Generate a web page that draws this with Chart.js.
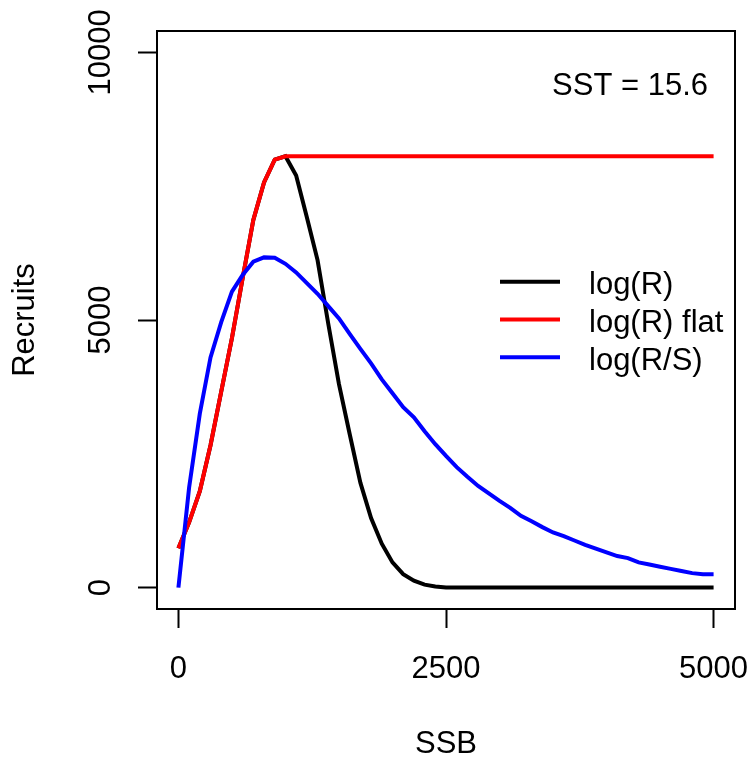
<!DOCTYPE html>
<html>
<head>
<meta charset="utf-8">
<script src="https://cdn.jsdelivr.net/npm/chart.js@4"></script>
<style>
  body { margin: 0; background: #fff; }
  canvas { display: block; }
</style>
</head>
<body>
<canvas id="myChart" width="754" height="765"></canvas>
<script>
// SSB grid and the three recruit curves
const ssb = [0, 100, 200, 300, 400, 500, 600, 700, 800, 900,
  1000, 1100, 1200, 1300, 1400, 1500, 1600, 1700, 1800, 1900,
  2000, 2100, 2200, 2300, 2400, 2500, 2600, 2700, 2800, 2900,
  3000, 3100, 3200, 3300, 3400, 3500, 3600, 3700, 3800, 3900,
  4000, 4100, 4200, 4300, 4400, 4500, 4600, 4700, 4800, 4900, 5000];

const logR = [735, 1220, 1800, 2660, 3660, 4660, 5780, 6870, 7570, 7995,
  8060, 7700, 6920, 6120, 4930, 3800, 2870, 1960, 1300, 820,
  470, 250, 130, 56, 20, 0, 0, 0, 0, 0,
  0, 0, 0, 0, 0, 0, 0, 0, 0, 0,
  0, 0, 0, 0, 0, 0, 0, 0, 0, 0, 0];

const logRflat = [735, 1220, 1800, 2660, 3660, 4660, 5780, 6870, 7570, 7995,
  8060, 8060, 8060, 8060, 8060, 8060, 8060, 8060, 8060, 8060,
  8060, 8060, 8060, 8060, 8060, 8060, 8060, 8060, 8060, 8060,
  8060, 8060, 8060, 8060, 8060, 8060, 8060, 8060, 8060, 8060,
  8060, 8060, 8060, 8060, 8060, 8060, 8060, 8060, 8060, 8060, 8060];

const logRS = [0, 1870, 3250, 4300, 4960, 5530, 5840, 6090, 6170, 6165,
  6050, 5890, 5690, 5490, 5260, 5030, 4740, 4460, 4190, 3890,
  3630, 3370, 3180, 2920, 2680, 2460, 2250, 2070, 1900, 1760,
  1620, 1490, 1340, 1240, 1130, 1030, 960, 880, 800, 730,
  660, 590, 550, 470, 430, 390, 350, 310, 270, 250, 250];

const seriesNames = ["log(R)", "log(R) flat", "log(R/S)"];
const xTicks = [0, 2500, 5000];
const yTicks = [0, 5000, 10000];
const note = "SST = 15.6";

const FONT = "'Liberation Sans', Arial, Helvetica, sans-serif";

function pts(ys) {
  return ssb.map((x, i) => ({ x: x, y: ys[i] }));
}

// box around the plot, the legend and the SST note
const boxPlugin = {
  id: "rbox",
  afterDraw(chart) {
    const ctx = chart.ctx;
    const a = chart.chartArea;
    ctx.save();
    ctx.strokeStyle = "#000";
    ctx.lineWidth = 2;
    ctx.strokeRect(a.left, a.top, a.right - a.left, a.bottom - a.top);

    ctx.font = "31px " + FONT;
    ctx.fillStyle = "#000";
    ctx.textBaseline = "alphabetic";
    ctx.textAlign = "right";
    ctx.fillText(note, 708, 95);

    ctx.textAlign = "left";
    chart.data.datasets.forEach((ds, i) => {
      const y = 281.7 + i * 37.8;
      ctx.strokeStyle = ds.borderColor;
      ctx.lineWidth = 4;
      ctx.beginPath();
      ctx.moveTo(500, y);
      ctx.lineTo(560, y);
      ctx.stroke();
      ctx.fillText(ds.label, 589, y + 12.5);
    });
    ctx.restore();
  }
};

const myChart = new Chart("myChart", {
  type: "scatter",
  data: {
    datasets: [
      { label: seriesNames[0], data: pts(logR), borderColor: "#000000", order: 3 },
      { label: seriesNames[1], data: pts(logRflat), borderColor: "#ff0000", order: 2 },
      { label: seriesNames[2], data: pts(logRS), borderColor: "#0000ff", order: 1 },
    ].map(d => Object.assign(d, {
      showLine: true, borderWidth: 4, pointRadius: 0, tension: 0, fill: false
    })),
  },
  options: {
    responsive: false,
    animation: false,
    layout: { padding: { top: 31, right: 19, left: 0, bottom: 0 } },
    plugins: {
      legend: { display: false },
      tooltip: { enabled: false },
    },
    scales: {
      x: {
        type: "linear",
        min: -200,
        max: 5200,
        afterBuildTicks: s => { s.ticks = xTicks.map(v => ({ value: v })); },
        afterFit: s => { s.height = 156; s.paddingLeft = 0; s.paddingRight = 0; },
        border: { display: false },
        grid: { drawOnChartArea: false, drawTicks: true, tickLength: 19, tickWidth: 2, tickColor: "#000" },
        ticks: {
          autoSkip: false, maxRotation: 0, padding: 23,
          callback: v => String(v),
          color: "#000", font: { family: FONT, size: 31, lineHeight: 1.2 },
        },
        title: {
          display: true, text: "SSB", color: "#000",
          font: { family: FONT, size: 31, lineHeight: 1.2 },
          padding: { top: 0, bottom: 1.5 },
        },
      },
      y: {
        type: "linear",
        min: -400,
        max: 10400,
        afterBuildTicks: s => { s.ticks = yTicks.map(v => ({ value: v })); },
        afterFit: s => { s.width = 157; s.paddingTop = 0; s.paddingBottom = 0; },
        border: { display: false },
        grid: { drawOnChartArea: false, drawTicks: true, tickLength: 19, tickWidth: 2, tickColor: "#000" },
        ticks: {
          autoSkip: false, minRotation: 90, maxRotation: 90, crossAlign: "center", padding: -7,
          callback: v => String(v),
          color: "#000", font: { family: FONT, size: 31, lineHeight: 1.2 },
        },
        title: {
          display: true, text: "Recruits", color: "#000",
          font: { family: FONT, size: 31, lineHeight: 1.2 },
          padding: { top: 7, bottom: 0 },
        },
      },
    },
  },
  plugins: [boxPlugin],
});
</script>
</body>
</html>
